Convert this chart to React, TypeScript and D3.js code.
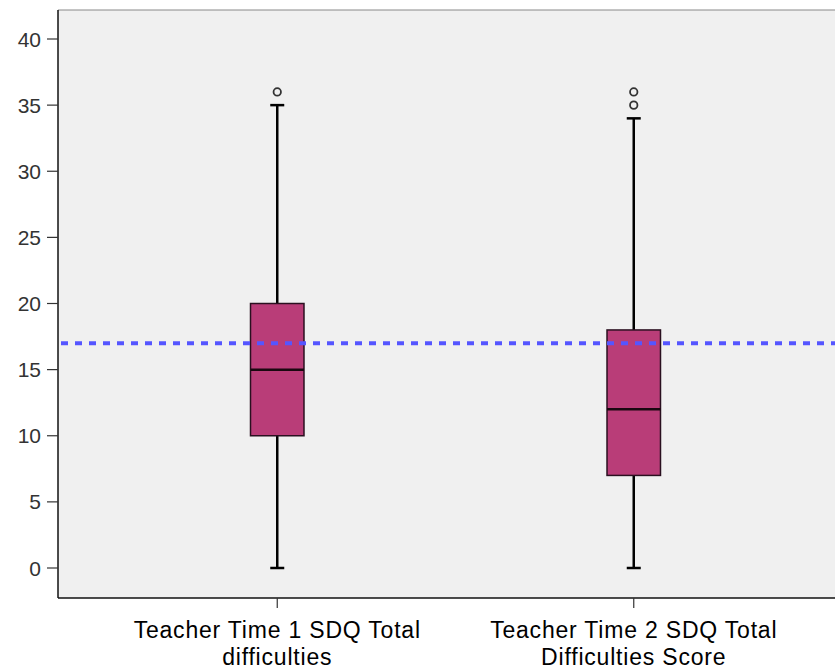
import React from "react";
import * as d3 from "d3";

const categories = ["Teacher Time 1 SDQ Total difficulties", "Teacher Time 2 SDQ Total Difficulties Score"];
const labelLines = [["Teacher Time 1 SDQ Total", "difficulties"], ["Teacher Time 2 SDQ Total", "Difficulties Score"]];
const whiskerLow = [0, 0];
const q1 = [10, 7];
const median = [15, 12];
const q3 = [20, 18];
const whiskerHigh = [35, 34];
const outliers = [[36], [35, 36]];
const yTicks = [0, 5, 10, 15, 20, 25, 30, 35, 40];
const refLine = 17;

const W = 835, H = 670;
const left = 58, top = 10, bottom = 598, right = 853;

export default function App() {
  const y = d3.scaleLinear().domain([0, 40]).range([568, 39]);
  const x = d3.scaleBand<string>().domain(categories).range([left, right]).paddingInner(0.85).paddingOuter(0.54);
  const bw = x.bandwidth();
  const capW = 14;
  return (
    <div style={{ position: "absolute", left: 0, top: 0 }}>
      <svg width={W} height={H} style={{ display: "block", fontFamily: "Arial, 'Liberation Sans', sans-serif" }}>
        <rect x={0} y={0} width={W} height={H} fill="#ffffff" />
        <rect x={left} y={top} width={right - left} height={bottom - top} fill="#f0f0f0" />
        <line x1={left} x2={right} y1={top} y2={top} stroke="#888" strokeWidth={1} />
        <line x1={left} x2={right} y1={bottom} y2={bottom} stroke="#111" strokeWidth={1.5} />
        <line x1={left} x2={left} y1={top} y2={bottom} stroke="#111" strokeWidth={1.5} />
        {yTicks.map((t) => (
          <g key={t}>
            <line x1={left - 11} x2={left} y1={y(t)} y2={y(t)} stroke="#333" strokeWidth={1.2} />
            <text x={41} y={y(t)} dy="0.36em" textAnchor="end" fontSize={21} fill="#333">{t}</text>
          </g>
        ))}
        {categories.map((c, i) => {
          const cx = (x(c) as number) + bw / 2;
          return (
            <g key={c}>
              <line x1={cx} x2={cx} y1={bottom} y2={bottom + 10} stroke="#333" strokeWidth={1.2} />
              {labelLines[i].map((l, j) => (
                <text key={j} x={cx} y={638 + j * 27} textAnchor="middle" fontSize={23} letterSpacing={0.8} fill="#000">{l}</text>
              ))}
              <line x1={cx} x2={cx} y1={y(whiskerLow[i])} y2={y(q1[i])} stroke="#000" strokeWidth={2.5} />
              <line x1={cx} x2={cx} y1={y(q3[i])} y2={y(whiskerHigh[i])} stroke="#000" strokeWidth={2.5} />
              <line x1={cx - capW / 2} x2={cx + capW / 2} y1={y(whiskerLow[i])} y2={y(whiskerLow[i])} stroke="#000" strokeWidth={2.5} />
              <line x1={cx - capW / 2} x2={cx + capW / 2} y1={y(whiskerHigh[i])} y2={y(whiskerHigh[i])} stroke="#000" strokeWidth={2.5} />
              <rect x={x(c)} y={y(q3[i])} width={bw} height={y(q1[i]) - y(q3[i])} fill="#b93d78" stroke="#2a1020" strokeWidth={1.5} />
              <line x1={x(c)} x2={(x(c) as number) + bw} y1={y(median[i])} y2={y(median[i])} stroke="#1a0810" strokeWidth={2.5} />
              {outliers[i].map((o, k) => (
                <circle key={k} cx={cx} cy={y(o)} r={3.7} fill="none" stroke="#333" strokeWidth={1.8} />
              ))}
            </g>
          );
        })}
        <line x1={left} x2={right} y1={y(refLine)} y2={y(refLine)} stroke="#5555ff" strokeWidth={4} strokeDasharray="7,7" strokeDashoffset={-3} />
      </svg>
    </div>
  );
}
